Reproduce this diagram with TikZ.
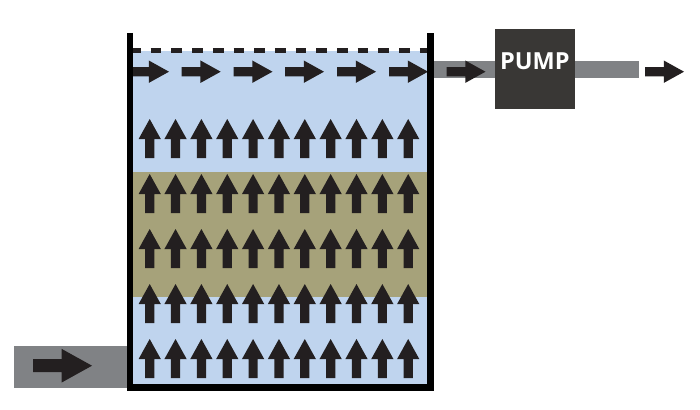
\documentclass[tikz,border=0pt]{standalone}
\usepackage{fontspec}
\setmainfont{Open Sans}
\usepackage{tikz}
\usetikzlibrary{shapes.arrows}
\definecolor{water}{HTML}{BFD4EE}
\definecolor{sand}{HTML}{A6A27A}
\definecolor{pipegray}{HTML}{808285}
\definecolor{pumpdark}{HTML}{393735}
\definecolor{flowdark}{HTML}{231F20}
\tikzset{layer/.style = {shape = rectangle, inner sep = 0, minimum width = 295}}
\tikzset{pipe/.style = {shape = rectangle, fill = pipegray, inner sep = 0}}
\tikzset{flow/.style = {shape = single arrow, fill = flowdark, inner sep = 4.4, minimum height = 39, minimum width = 22, single arrow head extend = 6.6, single arrow tip angle = 58, outer sep = 0, anchor = tail}}
\tikzset{bigflow/.style = {flow, inner sep = 6.3, minimum height = 59, minimum width = 33.4, single arrow head extend = 10.4}}
\tikzset{wall/.style = {draw = black, line width = 6.5, miter limit = 10}}
\tikzset{surface/.style = {draw = flowdark, line width = 5, dash pattern = on 10.7 off 10}}

\begin{document}
\begin{tikzpicture}[x = 1pt, y = -1pt]
			\useasboundingbox (0, 0) rectangle (700, 409);

			% tank contents
			\node[layer, fill = water, minimum height = 333] (water) at (280.5, 217.5) {};
			\node[layer, fill = sand, minimum height = 125] (sand) at (280.5, 234.5) {};

			% pipes and pump
			\node[pipe, minimum width = 114, minimum height = 41.4] (inlet) at (70.5, 367) {};
			\node[pipe, minimum width = 205, minimum height = 17.6] (outlet) at (536.5, 69.5) {};
			\node[shape = rectangle, fill = pumpdark, inner sep = 0, minimum size = 79.5] (pump) at (534.8, 69.2) {};
			\node[text = white, font = \fontsize{23.5}{23.5}\selectfont\bfseries, inner sep = 0] (pumplabel) at (534.8, 60.8) {PUMP};

			% upward flow
			\foreach \rowy in {158, 213, 268, 323, 378} {
				\foreach \col in {0, ..., 10} {
					\node[flow, rotate = 90] (up\col) at ({149.7 + 25.85 * \col}, \rowy) {};
				}
			}

			% flow along the surface
			\foreach \startx [count = \i] in {130, 181.7, 233.5, 285, 337, 389} {
				\node[flow] (across\i) at (\startx, 71.7) {};
			}
			\node[flow] (pumpin) at (446.5, 71.7) {};
			\node[flow] (pumpout) at (645, 71.7) {};
			\node[bigflow] (inflow) at (33, 365.7) {};

			% surface and walls
			\coordinate (surfl) at (130, 50.5);
			\coordinate (surfr) at (430, 50.5);
			\draw[surface] (surfl) -- (surfr);

			\coordinate (topl) at (130.1, 33);
			\coordinate (botl) at (130.1, 387.5);
			\coordinate (botr) at (430.5, 387.5);
			\coordinate (topr) at (430.5, 33);
			\draw[wall] (topl) -- (botl) -- (botr) -- (topr);
\end{tikzpicture}
\end{document}
